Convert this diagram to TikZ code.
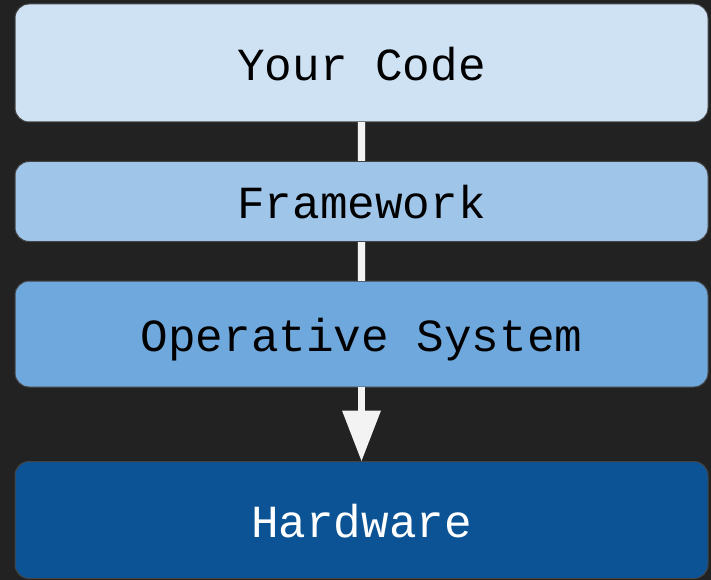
\documentclass[tikz,border=0pt]{standalone}
\usepackage{fontspec}
\setmonofont{Liberation Mono}
\usetikzlibrary{arrows.meta}
\definecolor{bg}{HTML}{222222}
\definecolor{edge}{HTML}{444444}
\definecolor{c1}{HTML}{CFE2F3}
\definecolor{c2}{HTML}{9FC5E8}
\definecolor{c3}{HTML}{6FA8DC}
\definecolor{c4}{HTML}{0B5394}
\definecolor{link}{HTML}{F3F3F3}
\tikzset{
  layer/.style={rectangle, rounded corners=14pt, draw=edge, line width=1pt,
    minimum width=693pt, inner sep=0pt, outer sep=0pt,
    text height=34.4pt, text depth=0pt,
    font=\ttfamily\fontsize{46}{50}\selectfont},
  link/.style={draw=edge, line width=0.8pt, double=link, double distance=6.5pt},
  arrowlink/.style={draw=link, line width=7pt, -{Triangle[width=37pt,length=51pt]}}
}
\begin{document}
\begin{tikzpicture}[x=1pt,y=-1pt]
\fill[bg] (0,0) rectangle (711,580);
\useasboundingbox (0,0) rectangle (711,580);
\node[layer, fill=c1, minimum height=118pt, text=black] (code) at (361.5,63) {Your Code};
\node[layer, fill=c2, minimum height=80pt, text=black] (fw) at (361.5,201.5) {Framework};
\node[layer, fill=c3, minimum height=106pt, text=black] (os) at (361.5,334) {Operative System};
\node[layer, fill=c4, minimum height=117pt, text=white] (hw) at (361.5,520) {Hardware};
\draw[link] (code.south) -- (fw.north);
\draw[link] (fw.south) -- (os.north);
\draw[arrowlink] (os.south) -- (hw.north);
\end{tikzpicture}
\end{document}
